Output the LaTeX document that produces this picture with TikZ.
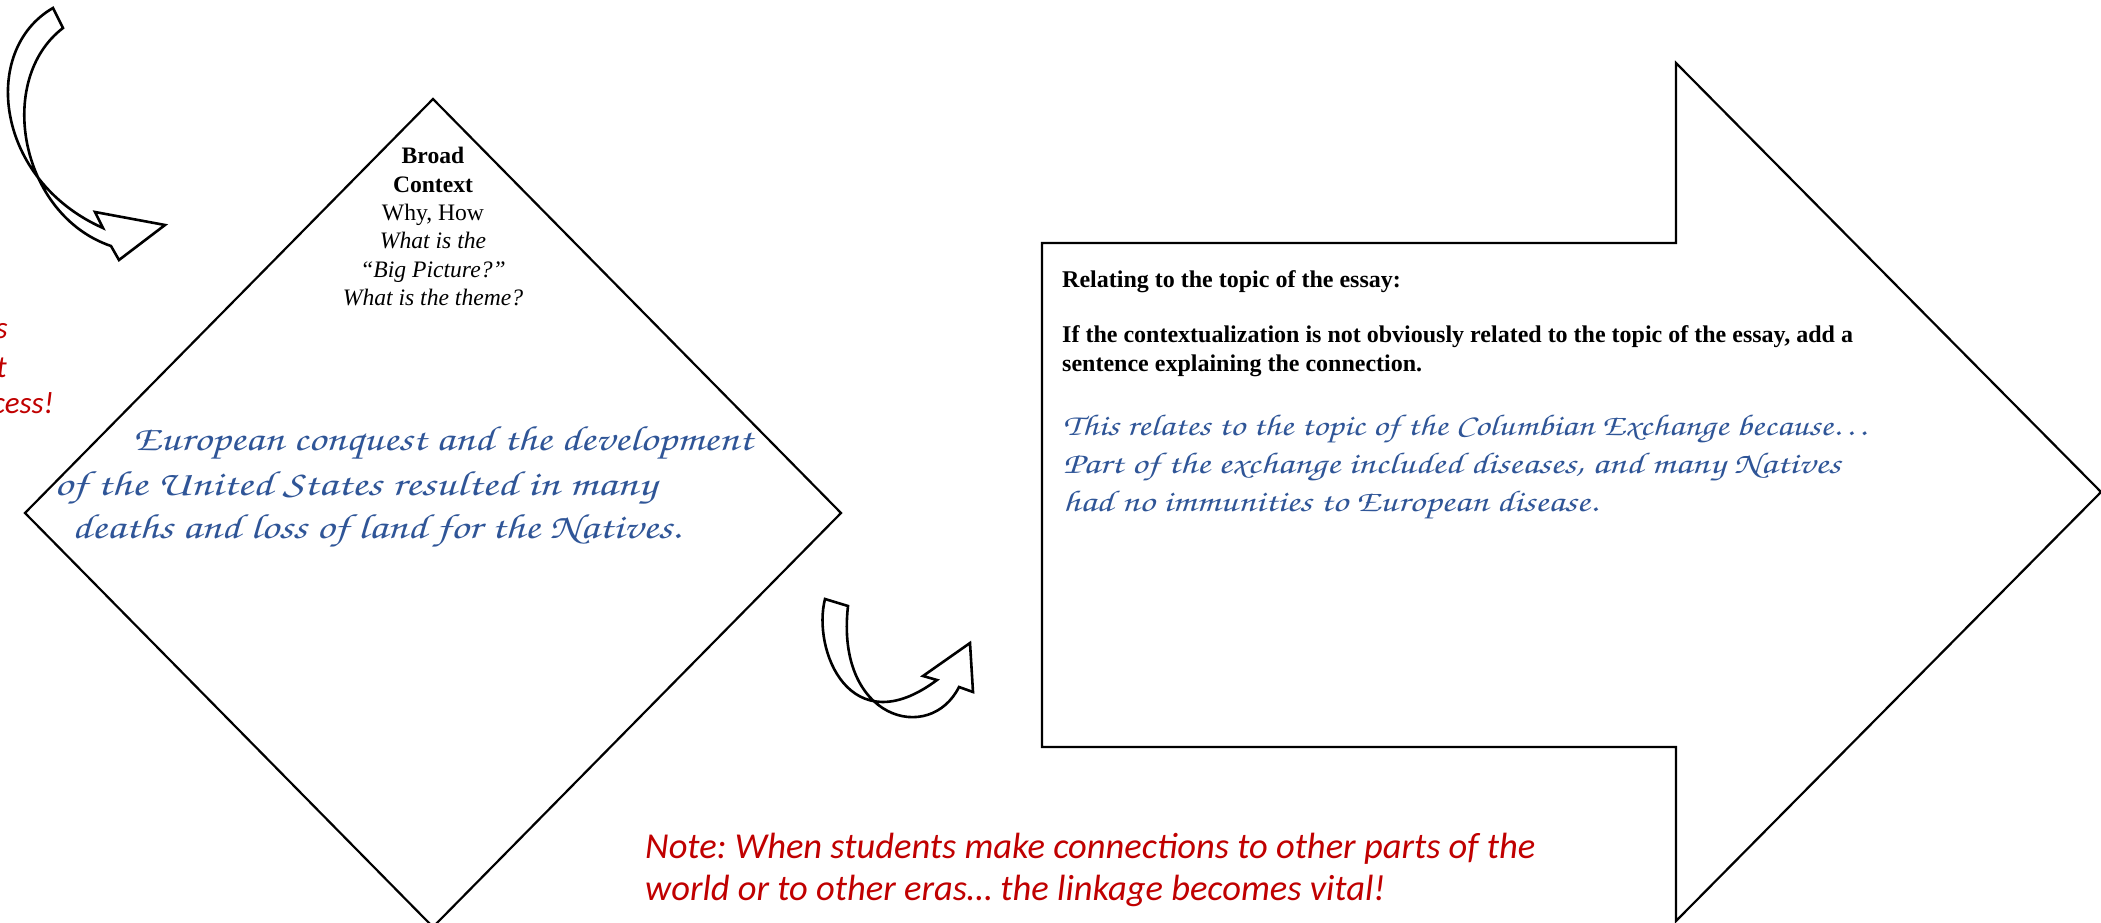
\documentclass[tikz,border=0pt]{standalone}
\usepackage[T1]{fontenc}
\usepackage{fontspec}
\setmainfont{Liberation Serif}
\newfontfamily\calib{Carlito}
\newcommand\handfont{\fontencoding{T1}\fontfamily{pzc}\fontseries{mb}\fontshape{it}\selectfont}
\newcommand\widen[2]{\scalebox{#1}[1]{#2}}
\definecolor{redtxt}{HTML}{C00000}
\definecolor{bluetxt}{HTML}{2F5597}
\frenchspacing
\tikzset{
  outline/.style={draw=black, line width=2.6pt, line join=miter},
  thinline/.style={draw=black, line width=2.2pt, line join=miter},
  txt/.style={inner sep=0pt, anchor=base},
  txtl/.style={inner sep=0pt, anchor=base west},
  txtr/.style={inner sep=0pt, anchor=base east},
  serifsz/.style={font=\fontsize{23.6}{28}\selectfont},
  serifbf/.style={font=\fontsize{23.6}{28}\selectfont\bfseries},
  serifit/.style={font=\fontsize{23.6}{28}\selectfont\itshape},
  boldsz/.style={font=\fontsize{24}{28}\selectfont\bfseries},
  handbig/.style={text=bluetxt, font=\fontsize{35}{40}\handfont},
  handsmall/.style={text=bluetxt, font=\fontsize{30}{36}\handfont},
  rednote/.style={text=redtxt, font=\fontsize{36.5}{42}\calib\itshape},
  redfrag/.style={text=redtxt, font=\fontsize{31}{38}\calib\itshape},
}
\begin{document}
\begin{tikzpicture}[x=1pt,y=-1pt]
\useasboundingbox (0,0) rectangle (2101,923);
% diamond
\draw[thinline] (433,99) -- (841,513) -- (433,927) -- (25,513) -- cycle;
% big block arrow
\draw[thinline] (1042,243) -- (1676,243) -- (1676,63) -- (2101,492) -- (1676,921) -- (1676,747) -- (1042,747) -- cycle;
% top-left curved arrow
\draw[outline] (53,8) .. controls (-20,50) and (-5,180) .. (103,228)
  -- (95,212) -- (165,225) -- (119,260) -- (111,246)
  .. controls (20,215) and (-5,80) .. (63,28) -- cycle;
% small curved arrow
\draw[outline] (825,599) .. controls (812,650) and (850,745) .. (937,680)
  -- (923,676) -- (970,643) -- (973,692) -- (959,687)
  .. controls (930,745) and (835,720) .. (848,606) -- cycle;
% diamond texts
\node[txt, serifbf] (broad) at (433,163) {Broad};
\node[txt, serifbf] (context) at (433,192) {Context};
\node[txt, serifsz] (whyhow) at (433,220) {Why, How};
\node[txt, serifit] (whatis) at (433,248) {What is the};
\node[txt, serifit] (bigpic) at (433,277) {“Big Picture?”};
\node[txt, serifit] (theme) at (433,305) {What is the theme?};
\node[txtl, handbig] (eu1) at (133,450) {\widen{1.25}{European conquest and the development}};
\node[txtl, handbig] (eu2) at (54,495) {\widen{1.30}{of the United States resulted in many}};
\node[txtl, handbig] (eu3) at (72,538) {\widen{1.26}{deaths and loss of land for the Natives.}};
% arrow texts
\node[txtl, boldsz] (rel) at (1062,287) {Relating to the topic of the essay:};
\node[txtl, boldsz] (if1) at (1062,342) {If the contextualization is not obviously related to the topic of the essay, add a};
\node[txtl, boldsz] (if2) at (1062,371) {sentence explaining the connection.};
\node[txtl, handsmall] (col1) at (1063,435) {\widen{1.22}{This relates to the topic of the Columbian Exchange because\dots}};
\node[txtl, handsmall] (col2) at (1063,473) {\widen{1.28}{Part of the exchange included diseases, and many Natives}};
\node[txtl, handsmall] (col3) at (1063,511) {\widen{1.28}{had no immunities to European disease.}};
% red notes
\node[txtl, rednote] (note1) at (645,858) {Note: When students make connections to other parts of the};
\node[txtl, rednote] (note2) at (645,900) {world or to other eras… the linkage becomes vital!};
\node[txtr, redfrag] (frag1) at (8,338) {s};
\node[txtr, redfrag] (frag2) at (7,377) {t};
\node[txtr, redfrag] (frag3) at (54,413) {cess!};
\end{tikzpicture}
\end{document}
